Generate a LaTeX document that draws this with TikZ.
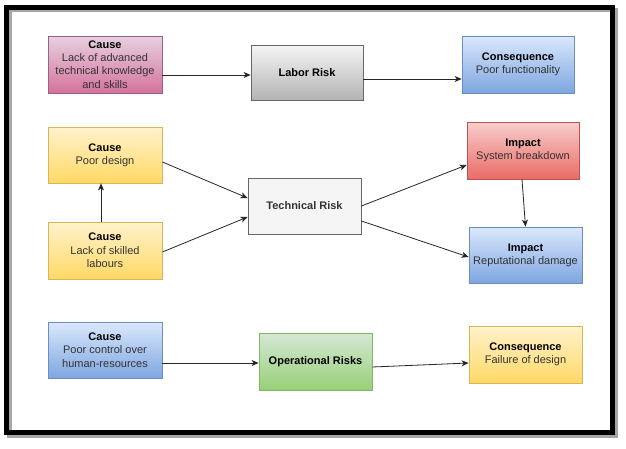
\documentclass[tikz,border=0pt]{standalone}
\usepackage{fontspec}
\setmainfont{Liberation Sans}
\usetikzlibrary{arrows.meta}
\definecolor{pinkT}{HTML}{E6D0DE}\definecolor{pinkB}{HTML}{D5739D}\definecolor{pinkS}{HTML}{996185}
\definecolor{grayT}{HTML}{F5F5F5}\definecolor{grayB}{HTML}{B3B3B3}\definecolor{grayS}{HTML}{666666}
\definecolor{blueT}{HTML}{DAE8FC}\definecolor{blueB}{HTML}{7EA6E0}\definecolor{blueS}{HTML}{6C8EBF}
\definecolor{yelT}{HTML}{FFF2CC}\definecolor{yelB}{HTML}{FFD966}\definecolor{yelS}{HTML}{D6B656}
\definecolor{redT}{HTML}{F8CECC}\definecolor{redB}{HTML}{EA6B66}\definecolor{redS}{HTML}{B85450}
\definecolor{grnT}{HTML}{D5E8D4}\definecolor{grnB}{HTML}{97D077}\definecolor{grnS}{HTML}{82B366}
\definecolor{txt}{HTML}{333333}
\tikzset{
  box/.style={rectangle, line width=0.8pt, align=center, inner sep=2pt,
    font=\fontsize{11}{13.3}\selectfont, text=txt},
  pinkbox/.style={box, draw=pinkS, top color=pinkT, bottom color=pinkB},
  graybox/.style={box, draw=grayS, top color=grayT, bottom color=grayB},
  bluebox/.style={box, draw=blueS, top color=blueT, bottom color=blueB},
  yelbox/.style={box, draw=yelS, top color=yelT, bottom color=yelB},
  redbox/.style={box, draw=redS, top color=redT, bottom color=redB},
  grnbox/.style={box, draw=grnS, top color=grnT, bottom color=grnB},
  plainbox/.style={box, draw=grayS, fill=grayT},
  conn/.style={draw=black!85, line width=0.8pt, -{Stealth[length=7pt,width=6pt,inset=2pt]}},
}
\newcommand{\ttl}[1]{\textbf{\color{black}#1}}
\begin{document}
\begin{tikzpicture}[x=1pt,y=-1pt]
\useasboundingbox (0,0) rectangle (626,448);
\fill[white] (0,0) rectangle (626,448);
% frame with shadow
\draw[line width=4.5pt, black!35] (9.5,10) rectangle (615.5,435.5);
\draw[line width=5pt, black] (6.5,7) rectangle (612.5,432.5);

\node[pinkbox, minimum width=114pt, minimum height=57pt] (c1) at (105,64.5)
  {\ttl{Cause}\\Lack of advanced\\technical knowledge\\and skills};
\node[graybox, minimum width=112pt, minimum height=55pt] (labor) at (307,72.5)
  {\ttl{Labor Risk}};
\node[bluebox, minimum width=112pt, minimum height=57pt] (cons1) at (518,64.5)
  {\ttl{Consequence}\\Poor functionality};

\node[yelbox, minimum width=114pt, minimum height=56pt] (c2) at (105,155)
  {\ttl{Cause}\\Poor design};
\node[yelbox, minimum width=114pt, minimum height=57pt] (c3) at (105,250.5)
  {\ttl{Cause}\\Lack of skilled\\labours};
\node[plainbox, minimum width=113pt, minimum height=56pt] (tech) at (304.5,206)
  {\textbf{Technical Risk}};
\node[redbox, minimum width=112pt, minimum height=57pt] (imp1) at (523,150.5)
  {\ttl{Impact}\\System breakdown};
\node[bluebox, minimum width=113pt, minimum height=56pt] (imp2) at (525.5,255)
  {\ttl{Impact}\\Reputational damage};

\node[bluebox, minimum width=114pt, minimum height=56pt] (c4) at (105,350)
  {\ttl{Cause}\\Poor control over\\human-resources};
\node[grnbox, minimum width=113pt, minimum height=57pt] (op) at (315.5,361.5)
  {\ttl{Operational Risks}};
\node[yelbox, minimum width=113pt, minimum height=57pt] (cons2) at (525.5,354.5)
  {\ttl{Consequence}\\Failure of design};

\draw[conn] ([yshift=-10.5pt]c1.east) -- ([yshift=-2.5pt]labor.west);
\draw[conn] ([yshift=-6.5pt]labor.east) -- ([yshift=-14.5pt]cons1.west);
\draw[conn] ([yshift=-7pt]c2.east) -- ([yshift=8pt]tech.west);
\draw[conn] ([yshift=-1.5pt]c3.east) -- ([yshift=-11pt]tech.west);
\draw[conn] ([xshift=-4pt]c3.north) -- ([xshift=-4pt]c2.south);
\draw[conn] (tech.east) -- ([yshift=-14.5pt]imp1.west);
\draw[conn] ([yshift=-15pt]tech.east) -- ([yshift=-2pt]imp2.west);
\draw[conn] ([xshift=-1pt]imp1.south) -- (imp2.north);
\draw[conn] ([yshift=-13pt]c4.east) -- ([yshift=-1.5pt]op.west);
\draw[conn] ([yshift=-5.5pt]op.east) -- ([yshift=-8.5pt]cons2.west);
\end{tikzpicture}
\end{document}
